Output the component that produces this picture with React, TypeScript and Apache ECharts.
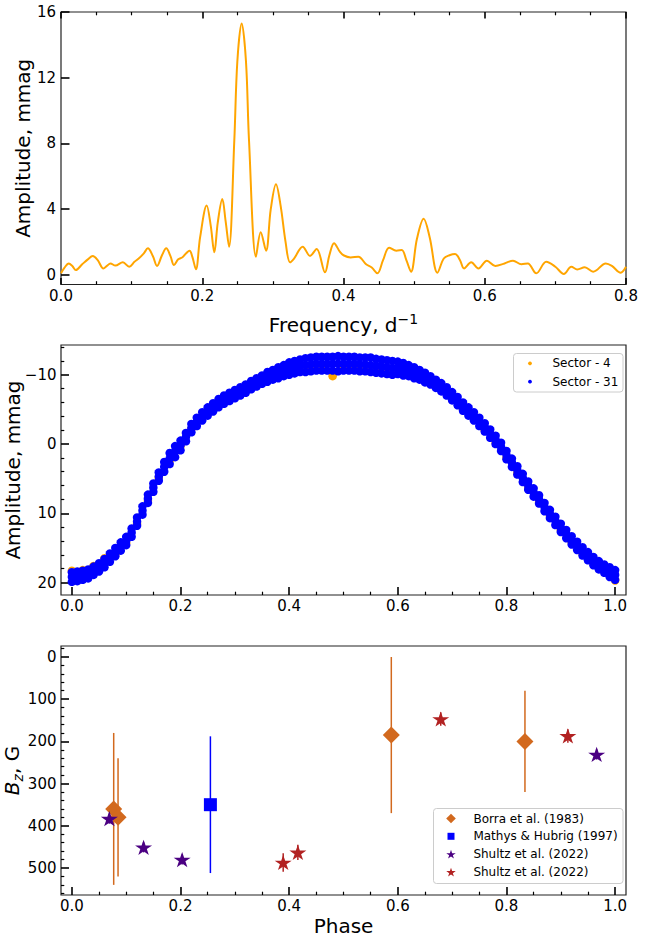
import React, { useEffect, useRef } from 'react';
import * as echarts from 'echarts';

const FONT = 'DejaVu Sans';

// ---------- Top panel: amplitude spectrum ----------
const freq = [0.000,0.005,0.011,0.016,0.021,0.030,0.038,0.045,0.052,0.060,0.065,0.070,0.077,0.0876,0.0965,0.104,0.110,0.117,0.123,0.130,0.136,0.143,0.149,0.155,0.160,0.166,0.172,0.182,0.186,0.191,0.197,0.2063,0.212,0.2171,0.222,0.2284,0.233,0.2379,0.2454,0.2497,0.2558,0.2619,0.2662,0.2761,0.2828,0.2903,0.297,0.3044,0.311,0.318,0.3243,0.330,0.3422,0.3526,0.362,0.3738,0.380,0.3866,0.395,0.400,0.410,0.421,0.432,0.440,0.448,0.456,0.4646,0.4748,0.4825,0.489,0.4956,0.504,0.5135,0.522,0.533,0.542,0.550,0.558,0.565,0.5707,0.5808,0.591,0.603,0.615,0.628,0.640,0.652,0.661,0.673,0.687,0.700,0.712,0.7226,0.731,0.7416,0.7535,0.7714,0.780,0.7925,0.800];
const ampl = [0.10,0.45,0.70,0.55,0.30,0.65,0.95,1.15,0.90,0.40,0.55,0.70,0.57,0.77,0.50,0.80,1.00,1.30,1.62,1.15,0.55,1.20,1.62,1.15,0.60,0.95,1.08,1.48,1.10,0.35,2.30,4.22,3.00,1.38,3.20,4.62,3.30,1.72,8.20,13.0,15.30,13.0,8.20,1.11,2.60,1.48,4.00,5.52,4.20,2.00,0.77,1.00,1.72,1.16,1.58,0.16,1.20,1.93,1.40,1.20,1.07,1.11,0.65,0.45,0.10,0.90,1.66,1.48,1.52,0.90,0.20,2.20,3.42,2.30,0.14,1.00,1.20,1.28,0.90,0.40,0.77,0.40,0.87,0.55,0.70,0.87,0.65,0.70,0.10,0.80,0.50,0.06,0.50,0.34,0.47,0.20,0.70,0.55,0.14,0.50];
const freqTicks = [0, 0.2, 0.4, 0.6, 0.8];
const freqMinorTicks = [0.05, 0.1, 0.15, 0.25, 0.3, 0.35, 0.45, 0.5, 0.55, 0.65, 0.7, 0.75];
const amplTicks = [0, 4, 8, 12, 16];

// ---------- Middle panel: phased light curve ----------
const phase = [0.00,0.01,0.02,0.03,0.04,0.05,0.06,0.07,0.08,0.09,0.10,0.11,0.12,0.13,0.14,0.15,0.16,0.17,0.18,0.19,0.20,0.21,0.22,0.23,0.24,0.25,0.26,0.27,0.28,0.29,0.30,0.31,0.32,0.33,0.34,0.35,0.36,0.37,0.38,0.39,0.40,0.41,0.42,0.43,0.44,0.45,0.46,0.47,0.48,0.49,0.50,0.51,0.52,0.53,0.54,0.55,0.56,0.57,0.58,0.59,0.60,0.61,0.62,0.63,0.64,0.65,0.66,0.67,0.68,0.69,0.70,0.71,0.72,0.73,0.74,0.75,0.76,0.77,0.78,0.79,0.80,0.81,0.82,0.83,0.84,0.85,0.86,0.87,0.88,0.89,0.90,0.91,0.92,0.93,0.94,0.95,0.96,0.97,0.98,0.99,1.00];
const s31Upper = [18.5,18.4,18.3,18.1,17.7,17.2,16.6,15.8,15.0,14.2,13.4,12.2,10.6,9.0,7.3,5.7,4.1,2.6,1.3,0.3,-0.5,-1.6,-2.9,-3.8,-4.6,-5.3,-5.9,-6.5,-7.0,-7.4,-7.8,-8.2,-8.6,-9.1,-9.5,-9.9,-10.4,-10.7,-11.1,-11.4,-11.8,-12.0,-12.2,-12.4,-12.5,-12.6,-12.6,-12.6,-12.6,-12.7,-12.6,-12.6,-12.6,-12.5,-12.5,-12.5,-12.3,-12.2,-12.1,-12.0,-11.9,-11.7,-11.4,-11.1,-10.7,-10.3,-9.8,-9.3,-8.8,-8.2,-7.5,-6.8,-6.0,-5.3,-4.6,-3.8,-3.0,-2.1,-1.2,-0.2,1.0,2.1,3.2,4.3,5.4,6.4,7.4,8.5,9.5,10.5,11.5,12.4,13.3,14.1,14.9,15.6,16.3,16.9,17.4,17.8,18.2];
const s31Mid = [19.2,19.1,19.0,18.7,18.3,17.8,17.2,16.4,15.6,14.8,14.0,12.8,11.2,9.6,7.9,6.3,4.7,3.3,2.1,1.1,0.2,-1.0,-2.3,-3.2,-4.0,-4.7,-5.3,-5.9,-6.4,-6.8,-7.2,-7.6,-8.0,-8.5,-8.9,-9.3,-9.7,-10.0,-10.3,-10.6,-10.9,-11.1,-11.3,-11.4,-11.5,-11.6,-11.6,-11.6,-11.6,-11.6,-11.6,-11.6,-11.6,-11.5,-11.5,-11.4,-11.3,-11.2,-11.1,-11.0,-11.0,-10.8,-10.6,-10.3,-10.0,-9.6,-9.2,-8.7,-8.2,-7.6,-6.9,-6.2,-5.4,-4.7,-4.0,-3.2,-2.4,-1.5,-0.6,0.4,1.6,2.7,3.8,4.9,6.0,7.0,8.0,9.1,10.1,11.1,12.1,13.0,13.9,14.7,15.5,16.2,16.9,17.5,18.0,18.5,18.9];
const s31Lower = [19.9,19.8,19.6,19.4,18.9,18.4,17.8,17.0,16.2,15.4,14.6,13.4,11.8,10.2,8.5,6.9,5.3,4.0,2.9,1.9,0.9,-0.4,-1.7,-2.6,-3.4,-4.1,-4.7,-5.3,-5.8,-6.2,-6.6,-7.0,-7.4,-7.9,-8.3,-8.7,-9.0,-9.3,-9.5,-9.8,-10.0,-10.2,-10.4,-10.4,-10.5,-10.6,-10.6,-10.6,-10.6,-10.5,-10.6,-10.6,-10.6,-10.5,-10.5,-10.4,-10.3,-10.2,-10.1,-10.0,-10.1,-9.9,-9.8,-9.5,-9.3,-8.9,-8.6,-8.1,-7.6,-7.0,-6.3,-5.6,-4.8,-4.1,-3.4,-2.6,-1.8,-0.9,0.0,1.0,2.2,3.3,4.4,5.5,6.6,7.6,8.6,9.7,10.7,11.7,12.7,13.6,14.5,15.3,16.1,16.8,17.5,18.1,18.6,19.2,19.6];
const s4Phase = [0.00,0.02,0.04,0.06,0.08,0.10,0.12,0.14,0.16,0.18,0.20,0.22,0.24,0.26,0.28,0.30,0.32,0.34,0.36,0.38,0.40,0.42,0.44,0.46,0.48,0.50,0.52,0.54,0.56,0.58,0.60,0.62,0.64,0.66,0.68,0.70,0.72,0.74,0.76,0.78,0.80,0.82,0.84,0.86,0.88,0.90,0.92,0.94,0.96,0.98,1.00];
const s4Amp = [18.3,18.2,17.6,16.5,15.9,14.3,11.5,8.2,4.9,2.4,0.3,-2.2,-4.1,-5.2,-6.4,-7.1,-7.9,-8.8,-9.6,-10.2,-10.6,-11.0,-10.9,-11.3,-9.8,-11.2,-11.3,-11.0,-11.0,-10.7,-10.6,-10.1,-9.8,-9.0,-7.9,-6.4,-5.0,-3.6,-2.0,-0.2,2.0,4.2,6.4,8.4,10.4,12.4,14.2,15.8,17.2,18.3,19.7];
const phaseTicks = [0, 0.2, 0.4, 0.6, 0.8, 1.0];
const phaseMinorTicks = [0.05, 0.1, 0.15, 0.25, 0.3, 0.35, 0.45, 0.5, 0.55, 0.65, 0.7, 0.75, 0.85, 0.9, 0.95];
const lcTicks = [-10, 0, 10, 20];
const lcMinorTicks = [-14, -12, -8, -6, -4, -2, 2, 4, 6, 8, 12, 14, 16, 18];
const lcSeriesNames = ['Sector - 4', 'Sector - 31'];

// ---------- Bottom panel: longitudinal field ----------
const borraPhase = [0.077, 0.085, 0.588, 0.834];
const borraBz = [360, 380, 185, 200];
const borraErr = [180, 140, 185, 120];
const mathysPhase = [0.255];
const mathysBz = [350];
const mathysErr = [162];
const shultzAPhase = [0.069, 0.132, 0.203, 0.966];
const shultzABz = [383, 451, 480, 231];
const shultzAErr = [12, 12, 12, 12];
const shultzBPhase = [0.389, 0.416, 0.679, 0.913];
const shultzBBz = [487, 463, 147, 187];
const shultzBErr = [22, 18, 16, 16];
const bzTicks = [0, 100, 200, 300, 400, 500];
const bzMinorTicks = [-20, 20, 40, 60, 80, 120, 140, 160, 180, 220, 240, 260, 280, 320, 340, 360, 380, 420, 440, 460, 480, 520, 540, 560];
const bzSeriesNames = ['Borra et al. (1983)', 'Mathys & Hubrig (1997)', 'Shultz et al. (2022)', 'Shultz et al. (2022)'];

const STAR = 'path://M100 0L122.45 69.1L195.1 69.1L136.33 111.8L158.8 180.9L100 138.2L41.2 180.9L63.67 111.8L4.9 69.1L77.55 69.1Z';
const STAR_UNIT = [[0, -1], [0.2245, -0.309], [0.951, -0.309], [0.3633, 0.118], [0.588, 0.809], [0, 0.382], [-0.588, 0.809], [-0.3633, 0.118], [-0.951, -0.309], [-0.2245, -0.309]];
const DIAMOND = 'path://M50 0L100 50L50 100L0 50Z';
const SQUARE = 'path://M0 0L100 0L100 100L0 100Z';

const C_ORANGE = '#FFA500';
const C_BLUE = '#0000FF';
const C_BORRA = '#D2691E';
const C_INDIGO = '#4B0082';
const C_RED = '#B22222';

function axis(o: any) {
  return {
    type: 'value',
    gridIndex: o.grid,
    min: o.min,
    max: o.max,
    position: o.pos,
    inverse: !!o.inverse,
    silent: true,
    axisLine: { show: false, onZero: false },
    splitLine: { show: false },
    axisTick: {
      show: true,
      inside: true,
      length: o.len,
      customValues: o.ticks,
      lineStyle: { color: '#000', width: o.w },
    },
    axisLabel: o.fmt
      ? { show: true, customValues: o.ticks, formatter: o.fmt, fontSize: 15, fontFamily: FONT, color: '#000', margin: o.margin }
      : { show: false },
    name: o.name,
    nameLocation: 'middle',
    nameGap: o.nameGap,
    nameMoveOverlap: false,
    nameTextStyle: o.nameStyle,
  };
}

const fmt1 = (v: number) => v.toFixed(1);
const fmtInt = (v: number) => (v < 0 ? '\u2212' + String(-v) : String(v));

function errBar(color: string, width: number) {
  return (_p: any, api: any) => {
    const x = api.value(0);
    const a = api.coord([x, api.value(1)]);
    const b = api.coord([x, api.value(2)]);
    return {
      type: 'line',
      shape: { x1: a[0], y1: a[1], x2: b[0], y2: b[1] },
      style: { stroke: color, lineWidth: width },
    };
  };
}

function legendGraphics() {
  const txt = (x: number, y: number, s: string) => ({
    type: 'text', x, y, z: 101,
    style: { text: s, fontSize: 12, fontFamily: FONT, fill: '#000', align: 'left', verticalAlign: 'middle' },
  });
  const star = (cx: number, cy: number, r: number, color: string) => ({
    type: 'polygon', z: 101,
    shape: { points: STAR_UNIT.map(([u, v]) => [cx + u * r, cy + v * r * 0.97]) },
    style: { fill: color },
  });
  const box = { fill: '#fff', stroke: '#cccccc', lineWidth: 1 };
  const mx1 = 530, tx1 = 552.5, r1 = [363.3, 381.7];
  const mx2 = 451, tx2 = 473.4, r2 = [818.5, 836.3, 854.2, 872.1];
  return [
    { type: 'rect', z: 100, shape: { x: 513.5, y: 353.5, width: 109.5, height: 38.5, r: 3 }, style: box },
    { type: 'circle', z: 101, shape: { cx: mx1, cy: r1[0], r: 1.9 }, style: { fill: C_ORANGE } },
    { type: 'circle', z: 101, shape: { cx: mx1, cy: r1[1], r: 1.9 }, style: { fill: C_BLUE } },
    txt(tx1, r1[0], lcSeriesNames[0]),
    txt(tx1, r1[1], lcSeriesNames[1]),
    { type: 'rect', z: 100, shape: { x: 433.5, y: 808.5, width: 189.5, height: 75, r: 3 }, style: box },
    { type: 'polygon', z: 101, shape: { points: [[mx2, r2[0] - 4.8], [mx2 + 4.8, r2[0]], [mx2, r2[0] + 4.8], [mx2 - 4.8, r2[0]]] }, style: { fill: C_BORRA } },
    { type: 'rect', z: 101, shape: { x: mx2 - 3.5, y: r2[1] - 3.5, width: 7, height: 7 }, style: { fill: C_BLUE } },
    star(mx2, r2[2] + 0.5, 5, C_INDIGO),
    star(mx2, r2[3] + 0.5, 5, C_RED),
    txt(tx2, r2[0], bzSeriesNames[0]),
    txt(tx2, r2[1], bzSeriesNames[1]),
    txt(tx2, r2[2], bzSeriesNames[2]),
    txt(tx2, r2[3], bzSeriesNames[3]),
  ];
}

function buildOption() {
  const gridStyle = {
    show: true, borderColor: '#222', borderWidth: 1.2, backgroundColor: 'transparent',
    containLabel: false, outerBoundsMode: 'none',
  };
  const titleStyle = { fontSize: 20, fontFamily: FONT, color: '#000' };

  const lcPoints: number[][] = [];
  phase.forEach((p, i) => {
    lcPoints.push([p, s31Upper[i]]);
    lcPoints.push([p, s31Mid[i]]);
    lcPoints.push([p, s31Lower[i]]);
  });

  const errData = (ph: number[], v: number[], e: number[]) => ph.map((p, i) => [p, v[i] - e[i], v[i] + e[i]]);
  const ptData = (ph: number[], v: number[]) => ph.map((p, i) => [p, v[i]]);
  const solid = (c: string) => ({ color: c, opacity: 1, borderWidth: 0 });

  return {
    animation: false,
    textStyle: { fontFamily: FONT },
    grid: [
      { left: 61, top: 12, width: 565, height: 272.5, ...gridStyle },
      { left: 61, top: 345, width: 565, height: 250, ...gridStyle },
      { left: 61, top: 646, width: 565, height: 249, ...gridStyle },
    ],
    xAxis: [
      axis({ grid: 0, min: 0, max: 0.8, pos: 'bottom', len: 6.5, w: 1.6, ticks: freqTicks, fmt: fmt1, margin: 4,
        name: '{b|Frequency, d}{sup|\u22121}', nameGap: 27,
        nameStyle: { ...titleStyle, rich: { b: { fontSize: 20, fontFamily: FONT, lineHeight: 26 }, sup: { fontSize: 14, fontFamily: FONT, lineHeight: 14, verticalAlign: 'top' } } } }),
      axis({ grid: 0, min: 0, max: 0.8, pos: 'bottom', len: 3.3, w: 1.2, ticks: freqMinorTicks }),
      axis({ grid: 0, min: 0, max: 0.8, pos: 'top', len: 6.5, w: 1.6, ticks: freqTicks }),
      axis({ grid: 0, min: 0, max: 0.8, pos: 'top', len: 3.3, w: 1.2, ticks: freqMinorTicks }),
      axis({ grid: 1, min: -0.02, max: 1.02, pos: 'bottom', len: 8, w: 1.6, ticks: phaseTicks, fmt: fmt1, margin: 3 }),
      axis({ grid: 1, min: -0.02, max: 1.02, pos: 'bottom', len: 3.3, w: 1.2, ticks: phaseMinorTicks }),
      axis({ grid: 2, min: -0.02, max: 1.02, pos: 'bottom', len: 8, w: 1.6, ticks: phaseTicks, fmt: fmt1, margin: 3,
        name: 'Phase', nameGap: 21, nameStyle: titleStyle }),
      axis({ grid: 2, min: -0.02, max: 1.02, pos: 'bottom', len: 3.3, w: 1.2, ticks: phaseMinorTicks }),
    ],
    yAxis: [
      axis({ grid: 0, min: -0.58, max: 16, pos: 'left', len: 8.5, w: 1.6, ticks: amplTicks, fmt: fmtInt, margin: 5,
        name: 'Amplitude, mmag', nameGap: 28.5, nameStyle: titleStyle }),
      axis({ grid: 1, min: -14.3, max: 21.8, inverse: true, pos: 'left', len: 8, w: 1.6, ticks: lcTicks, fmt: fmtInt, margin: 4.5,
        name: 'Amplitude, mmag', nameGap: 38.5, nameStyle: titleStyle }),
      axis({ grid: 1, min: -14.3, max: 21.8, inverse: true, pos: 'left', len: 3.3, w: 1.2, ticks: lcMinorTicks }),
      axis({ grid: 2, min: -26, max: 564, inverse: true, pos: 'left', len: 8, w: 1.6, ticks: bzTicks, fmt: fmtInt, margin: 4.5,
        name: '{i|B}{s|z}{n|, G}', nameGap: 36,
        nameStyle: { ...titleStyle, rich: {
          i: { fontSize: 20, fontFamily: FONT, fontStyle: 'italic', lineHeight: 26 },
          s: { fontSize: 14, fontFamily: FONT, fontStyle: 'italic', lineHeight: 14, verticalAlign: 'bottom' },
          n: { fontSize: 20, fontFamily: FONT, lineHeight: 26 },
        } } }),
      axis({ grid: 2, min: -26, max: 564, inverse: true, pos: 'left', len: 3.3, w: 1.2, ticks: bzMinorTicks }),
    ],
    graphic: legendGraphics(),
    series: [
      {
        type: 'line', xAxisIndex: 0, yAxisIndex: 0,
        data: freq.map((f, i) => [f, ampl[i]]),
        showSymbol: false, smooth: 0.35,
        lineStyle: { color: C_ORANGE, width: 2 },
        silent: true,
      },
      {
        name: lcSeriesNames[0], type: 'scatter', xAxisIndex: 4, yAxisIndex: 1,
        data: ptData(s4Phase, s4Amp), symbol: 'circle', symbolSize: 8.5,
        itemStyle: solid(C_ORANGE), silent: true,
      },
      {
        name: lcSeriesNames[1], type: 'scatter', xAxisIndex: 4, yAxisIndex: 1,
        data: lcPoints, symbol: 'circle', symbolSize: 8.5,
        itemStyle: solid(C_BLUE), silent: true,
      },
      {
        type: 'custom', xAxisIndex: 6, yAxisIndex: 3, renderItem: errBar(C_BORRA, 1.5),
        data: errData(borraPhase, borraBz, borraErr), encode: { x: 0, y: [1, 2] }, silent: true,
      },
      {
        name: bzSeriesNames[0], type: 'scatter', xAxisIndex: 6, yAxisIndex: 3,
        data: ptData(borraPhase, borraBz), symbol: DIAMOND, symbolSize: 17, symbolKeepAspect: true,
        itemStyle: solid(C_BORRA), silent: true,
      },
      {
        type: 'custom', xAxisIndex: 6, yAxisIndex: 3, renderItem: errBar(C_BLUE, 1.5),
        data: errData(mathysPhase, mathysBz, mathysErr), encode: { x: 0, y: [1, 2] }, silent: true,
      },
      {
        name: bzSeriesNames[1], type: 'scatter', xAxisIndex: 6, yAxisIndex: 3,
        data: ptData(mathysPhase, mathysBz), symbol: SQUARE, symbolSize: 13, symbolKeepAspect: true,
        itemStyle: solid(C_BLUE), silent: true,
      },
      {
        type: 'custom', xAxisIndex: 6, yAxisIndex: 3, renderItem: errBar(C_INDIGO, 1.5),
        data: errData(shultzAPhase, shultzABz, shultzAErr), encode: { x: 0, y: [1, 2] }, silent: true,
      },
      {
        name: bzSeriesNames[2], type: 'scatter', xAxisIndex: 6, yAxisIndex: 3,
        data: ptData(shultzAPhase, shultzABz), symbol: STAR, symbolSize: [17, 16], symbolKeepAspect: true,
        itemStyle: solid(C_INDIGO), silent: true,
      },
      {
        type: 'custom', xAxisIndex: 6, yAxisIndex: 3, renderItem: errBar(C_RED, 1.5),
        data: errData(shultzBPhase, shultzBBz, shultzBErr), encode: { x: 0, y: [1, 2] }, silent: true,
      },
      {
        name: bzSeriesNames[3], type: 'scatter', xAxisIndex: 6, yAxisIndex: 3,
        data: ptData(shultzBPhase, shultzBBz), symbol: STAR, symbolSize: [17, 16], symbolKeepAspect: true,
        itemStyle: solid(C_RED), silent: true,
      },
    ],
  };
}

export default function App() {
  const ref = useRef<HTMLDivElement>(null);
  useEffect(() => {
    document.body.style.margin = '0';
    const chart = echarts.init(ref.current as HTMLDivElement, null, { renderer: 'svg' });
    chart.setOption(buildOption() as any);
    return () => chart.dispose();
  }, []);
  return <div ref={ref} style={{ width: 660, height: 938 }} />;
}
